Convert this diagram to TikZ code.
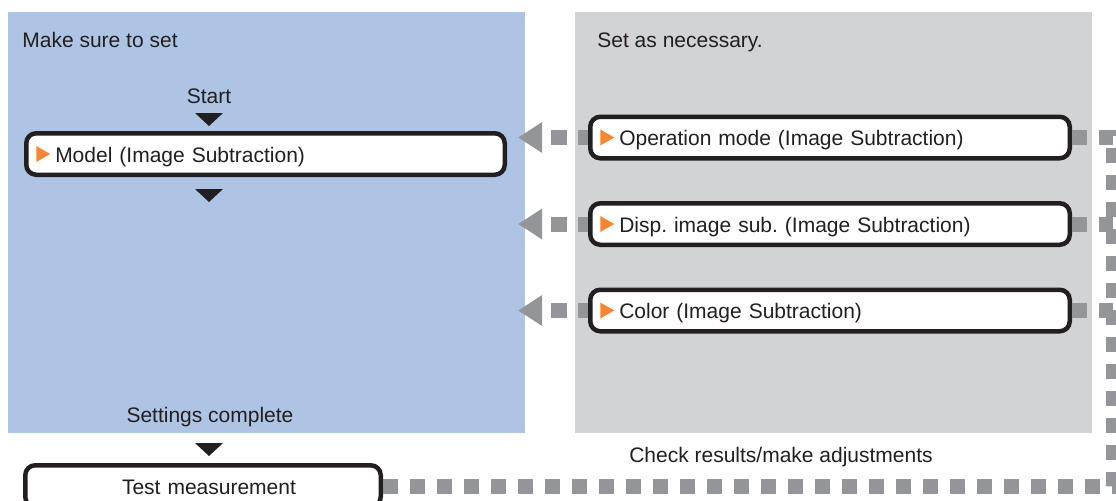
\documentclass[tikz,border=0pt]{standalone}
\usepackage{fontspec}
\setmainfont{Liberation Sans}
\usetikzlibrary{arrows.meta}
\definecolor{bluezone}{HTML}{AEC4E4}
\definecolor{grayzone}{HTML}{D1D3D5}
\definecolor{dashgray}{HTML}{939598}
\definecolor{inkc}{HTML}{231F20}
\definecolor{orangemk}{HTML}{F58634}
\newcommand{\ortri}{\tikz[baseline=0pt]\fill[orangemk,sharp corners] (0pt,0pt) -- (0pt,8pt) -- (7pt,4pt) -- cycle;}
\frenchspacing

\begin{document}
\begin{tikzpicture}[x=0.5pt,y=-0.5pt]
\tikzstyle{txt} = [text=inkc,font=\fontsize{10.5}{12}\selectfont,inner sep=0pt];
\tikzstyle{setbox} = [txt,draw=inkc,line width=2.25pt,rounded corners=5pt,fill=white,minimum height=20.75pt,inner xsep=5pt,align=left,text height=9.5pt,text depth=1.5pt];
\tikzstyle{back} = [dashgray,line width=7.5pt,dash pattern=on 5pt off 5.5pt on 8pt off 5.5pt,-{Triangle[length=12pt,width=14.5pt]}];
\tikzstyle{fb} = [dashgray,line width=7.5pt,dash pattern=on 7.5pt off 6pt];

\useasboundingbox (0,0) rectangle (1116,500);

\fill[bluezone] (8,12) rectangle (525,433);
\fill[grayzone] (575,12) rectangle (1092,433);

\node[txt,anchor=west] (must) at (22,40) {Make sure to set};
\node[txt,anchor=west] (optional) at (597,42) {Set as necessary.};
\node[txt] (start) at (209,96) {Start};
\node[setbox,text width=229.25pt] (model) at (265.5,154) {\ortri\hspace{2.5pt}Model (Image Subtraction)};
\node[txt] (done) at (210,417) {Settings complete};
\node[setbox,text width=167.75pt,align=center] (test) at (203,486) {\hspace{6pt}Test measurement};
\node[txt] (check) at (781,457) {Check results/make adjustments};

\foreach \n/\y/\t in {opmode/137.5/Operation mode,disp/224/Disp. image sub.,color/310.5/Color}
	\node[setbox,text width=229.75pt] (\n) at (830,\y) {\ortri\hspace{2.5pt}\t{} (Image Subtraction)};

\foreach \y in {113,189,443}
	\fill[inkc] (195,\y) -- ++(28,0) -- ++(-14,13) -- cycle;

\coordinate (tip) at (518,0);
\coordinate (fbx) at (1113,130);

\foreach \n in {opmode,disp,color}{
	\draw[back] (\n.west) -- (\n.west -| tip);
	\draw[fb] (\n.east) -- (\n.east -| fbx);
}
\draw[fb] (test.east) -- (test.east -| fbx) -- (fbx);

\end{tikzpicture}
\end{document}
